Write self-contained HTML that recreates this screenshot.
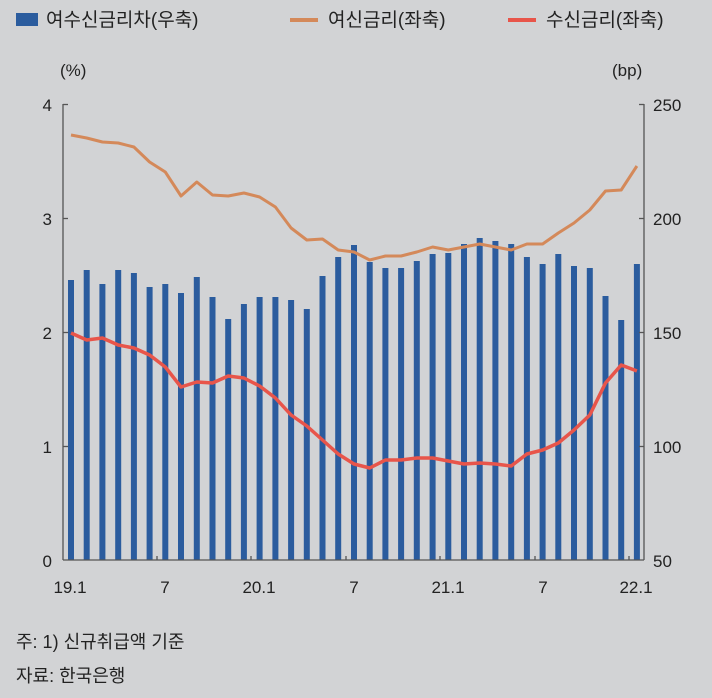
<!DOCTYPE html>
<html><head><meta charset="utf-8"><style>
html,body{margin:0;padding:0;background:#d2d3d5;}
svg{display:block;font-family:"Liberation Sans","Noto Sans CJK KR",sans-serif;}
</style></head><body>
<svg width="712" height="698" viewBox="0 0 712 698" xmlns="http://www.w3.org/2000/svg">
<rect width="712" height="698" fill="#d2d3d5"/>
<!-- legend -->
<rect x="16" y="13" width="22" height="13" fill="#2b5c9e"/>
<text x="46" y="26" font-size="19" fill="#222">여수신금리차(우축)</text>
<line x1="290" y1="20" x2="318" y2="20" stroke="#d4895a" stroke-width="4"/>
<text x="328" y="26" font-size="19" fill="#222">여신금리(좌축)</text>
<line x1="508" y1="20" x2="536" y2="20" stroke="#e8554a" stroke-width="4"/>
<text x="546" y="26" font-size="19" fill="#222">수신금리(좌축)</text>
<text x="60" y="76" font-size="17" fill="#222">(%)</text>
<text x="612" y="76" font-size="17" fill="#222">(bp)</text>
<!-- bars -->
<g fill="#2b5c9e" id="bars"></g>
<!-- axes -->
<g stroke="#555" stroke-width="1.3" fill="none">
<line x1="63" y1="104" x2="63" y2="560"/>
<line x1="644" y1="104" x2="644" y2="560"/>
<line x1="63" y1="560" x2="644" y2="560"/>
<line x1="63" y1="104.5" x2="68" y2="104.5"/><line x1="63" y1="218.5" x2="68" y2="218.5"/><line x1="63" y1="332.5" x2="68" y2="332.5"/><line x1="63" y1="446.5" x2="68" y2="446.5"/>
<line x1="639" y1="104.5" x2="644" y2="104.5"/><line x1="639" y1="218.5" x2="644" y2="218.5"/><line x1="639" y1="332.5" x2="644" y2="332.5"/><line x1="639" y1="446.5" x2="644" y2="446.5"/>
<line x1="157" y1="556" x2="157" y2="560"/><line x1="251" y1="556" x2="251" y2="560"/><line x1="346" y1="556" x2="346" y2="560"/><line x1="440" y1="556" x2="440" y2="560"/><line x1="535" y1="556" x2="535" y2="560"/><line x1="629" y1="556" x2="629" y2="560"/>
</g>
<polyline id="ol" fill="none" stroke="#d4895a" stroke-width="3" stroke-linejoin="round"/>
<polyline id="rl" fill="none" stroke="#e8554a" stroke-width="3.5" stroke-linejoin="round"/>
<g font-size="17" fill="#222">
<text x="52" y="111" text-anchor="end">4</text>
<text x="52" y="225" text-anchor="end">3</text>
<text x="52" y="339" text-anchor="end">2</text>
<text x="52" y="453" text-anchor="end">1</text>
<text x="52" y="567" text-anchor="end">0</text>
<text x="653" y="111">250</text>
<text x="653" y="225">200</text>
<text x="653" y="339">150</text>
<text x="653" y="453">100</text>
<text x="653" y="567">50</text>
<g text-anchor="middle">
<text x="70" y="593">19.1</text>
<text x="165" y="593">7</text>
<text x="259" y="593">20.1</text>
<text x="354" y="593">7</text>
<text x="448" y="593">21.1</text>
<text x="543" y="593">7</text>
<text x="636" y="593">22.1</text>
</g>
<text x="16" y="648" font-size="18">주: 1) 신규취급액 기준</text>
<text x="16" y="682" font-size="18">자료: 한국은행</text>
</g>
<script>
var tops=[280,270,284,270,273,287,284,293,277,297,319,304,297,297,300,309,276,257,245,262,268,268,261,254,253,244,238,241,244,257,264,254,266,268,296,320,264];
var ol=[135,138,142,143,147,162,172,196,182,195,196,193,197,207,228,240,239,250,252,260,256,256,252,247,250,247,244,247,250,244,244,233,223,210,191,190,166];
var rl=[333,340,338,345,348,355,367,387,382,383,376,378,386,398,415,426,440,454,464,468,460,460,458,458,461,464,463,464,466,454,450,443,430,415,383,365,371];
var g=document.getElementById('bars'),ns='http://www.w3.org/2000/svg',po='',pr='';
for(var i=0;i<37;i++){var x=71+i*15.72;var r=document.createElementNS(ns,'rect');
r.setAttribute('x',(x-3).toFixed(1));r.setAttribute('y',tops[i]);r.setAttribute('width',6);r.setAttribute('height',560-tops[i]);g.appendChild(r);
po+=x.toFixed(1)+','+ol[i]+' ';pr+=x.toFixed(1)+','+rl[i]+' ';}
document.getElementById('ol').setAttribute('points',po);
document.getElementById('rl').setAttribute('points',pr);
</script>
</svg>
</body></html>
